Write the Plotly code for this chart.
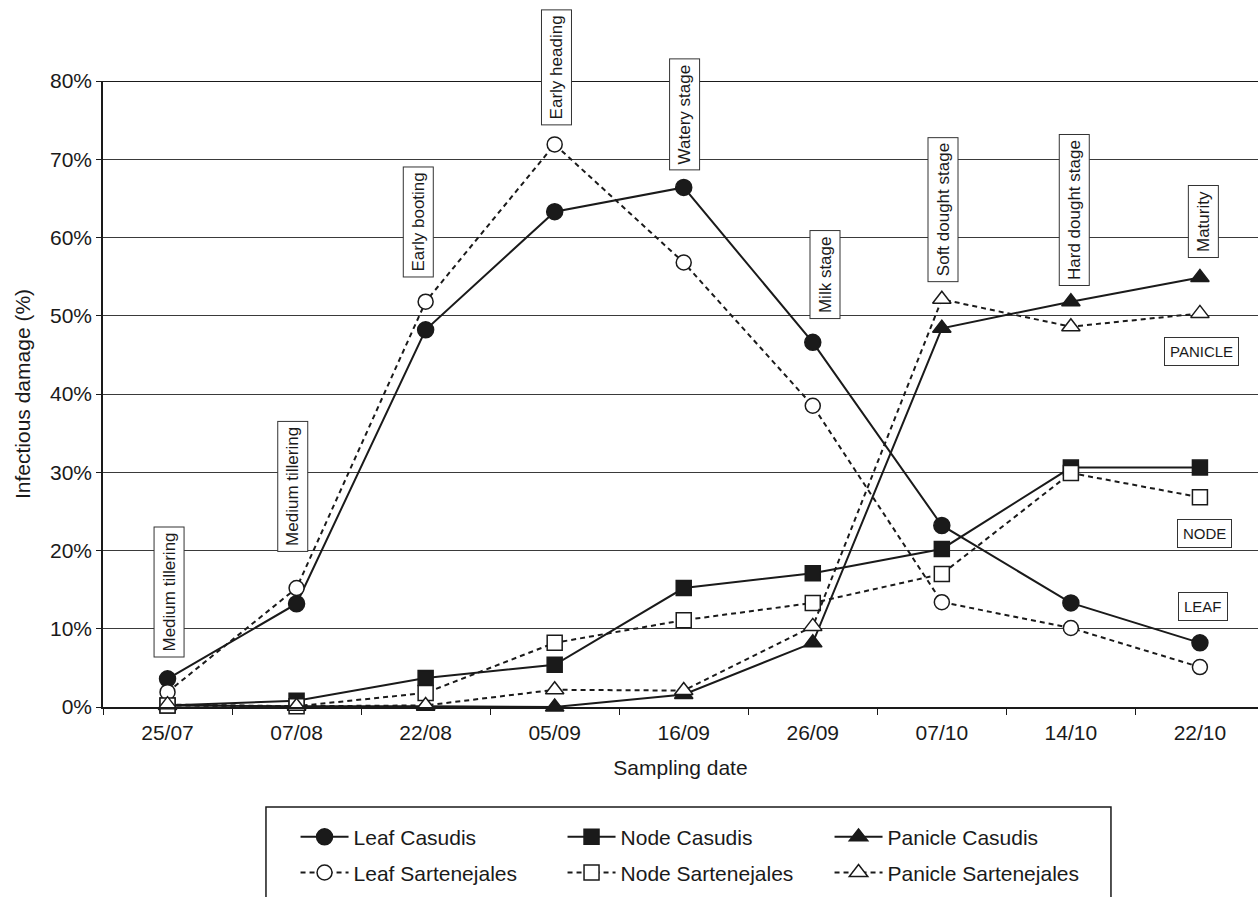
import plotly.graph_objects as go

# Sampling dates (categories on the x axis)
dates = ["25/07", "07/08", "22/08", "05/09", "16/09", "26/09", "07/10", "14/10", "22/10"]

# Infectious damage (%) per organ and cultivar
leaf_casudis = [3.6, 13.2, 48.2, 63.3, 66.4, 46.6, 23.2, 13.3, 8.2]
node_casudis = [0.2, 0.8, 3.7, 5.4, 15.2, 17.1, 20.2, 30.6, 30.6]
panicle_casudis = [0.2, 0.1, 0.1, 0.0, 1.6, 8.2, 48.4, 51.8, 54.9]
leaf_sartenejales = [1.9, 15.2, 51.8, 71.9, 56.8, 38.5, 13.4, 10.1, 5.1]
node_sartenejales = [0.2, 0.1, 1.8, 8.2, 11.1, 13.3, 17.0, 29.9, 26.8]
panicle_sartenejales = [0.3, 0.1, 0.2, 2.2, 2.1, 10.3, 52.1, 48.6, 50.3]

# Crop growth stage at each sampling date
stages = ["Medium tillering", "Medium tillering", "Early booting", "Early heading",
          "Watery stage", "Milk stage", "Soft dought stage", "Hard dought stage", "Maturity"]

# Organ labels on the right-hand side
organ_labels = ["PANICLE", "NODE", "LEAF"]

Y_MAX = 80

# Placement of the stage boxes (centre height in % units, x offset in px)
stage_y = [14.7, 28.2, 62.0, 81.7, 75.7, 55.3, 63.6, 63.5, 62.1]
stage_dx = [2, -4, -7, 2, 1, 12, 1, 3, 3]
organ_y = [45.4, 22.2, 12.9]
organ_dx = [2, 5, 3]

INK = "#1a1a1a"
FONT = "Liberation Sans, Arial, sans-serif"

series = [
    ("Leaf Casudis", leaf_casudis, "circle", INK, "solid", "legend", 16),
    ("Node Casudis", node_casudis, "square", INK, "solid", "legend", 15),
    ("Panicle Casudis", panicle_casudis, "triangle-up", INK, "solid", "legend", 16),
    ("Leaf Sartenejales", leaf_sartenejales, "circle", "white", "5px,4px", "legend2", 15),
    ("Node Sartenejales", node_sartenejales, "square", "white", "5px,4px", "legend2", 15),
    ("Panicle Sartenejales", panicle_sartenejales, "triangle-up", "white", "5px,4px", "legend2", 16),
]

fig = go.Figure()
for name, vals, sym, fill, dash, leg, size in series:
    fig.add_trace(go.Scatter(
        x=dates, y=vals, name=name, mode="lines+markers",
        line=dict(color=INK, width=2, dash=dash),
        marker=dict(symbol=sym, size=size, color=fill, line=dict(color=INK, width=1.5)),
        cliponaxis=False, legend=leg,
    ))

annotations = []
for i, (txt, yv, dx) in enumerate(zip(stages, stage_y, stage_dx)):
    annotations.append(dict(
        x=i, y=yv / Y_MAX, xref="x", yref="paper", xanchor="center", yanchor="middle",
        text=txt, textangle=-90, showarrow=False, xshift=dx,
        font=dict(family=FONT, size=17, color=INK),
        bgcolor="white", bordercolor="#333", borderwidth=1, borderpad=5,
    ))
for txt, yv, dx in zip(organ_labels, organ_y, organ_dx):
    annotations.append(dict(
        x=len(dates) - 1, y=yv / Y_MAX, xref="x", yref="paper", xanchor="center",
        yanchor="middle", text=txt, showarrow=False, xshift=dx,
        font=dict(family=FONT, size=15, color=INK),
        bgcolor="white", bordercolor="#333", borderwidth=1, borderpad=5,
    ))

legend_common = dict(
    orientation="h", xanchor="left", yanchor="middle", x=0.1667,
    font=dict(family=FONT, size=21, color=INK), bgcolor="rgba(0,0,0,0)",
    borderwidth=0, itemwidth=48, entrywidth=204, traceorder="normal",
)

fig.update_layout(
    width=1258, height=897, autosize=False,
    margin=dict(l=103, r=0, t=81, b=190),
    paper_bgcolor="white", plot_bgcolor="white",
    font=dict(family=FONT, size=21, color=INK),
    showlegend=True,
    legend=dict(legend_common, y=-0.208),
    legend2=dict(legend_common, y=-0.265),
    xaxis=dict(
        type="category", categoryorder="array", categoryarray=dates,
        range=[-0.5, 8.45], tickson="boundaries", ticks="outside", ticklen=6,
        tickcolor=INK, showline=True, linecolor=INK, linewidth=1.5, showgrid=False,
        ticklabelstandoff=6, tickfont=dict(size=21),
        title=dict(text="Sampling date", standoff=17, font=dict(size=21)),
    ),
    yaxis=dict(
        range=[0, Y_MAX], dtick=10, ticksuffix="%", ticks="outside", ticklen=5,
        tickcolor=INK, showline=True, linecolor=INK, linewidth=1.5,
        showgrid=True, gridcolor="#3a3a3a", gridwidth=1.3, zeroline=False,
        tickfont=dict(size=21),
        title=dict(text="Infectious damage (%)", standoff=14, font=dict(size=21)),
    ),
    annotations=annotations,
    shapes=[
        dict(type="line", xref="paper", yref="y", x0=0, x1=1, y0=Y_MAX, y1=Y_MAX,
             line=dict(color=INK, width=2.2)),
        dict(type="rect", xref="paper", yref="paper", x0=0.1411, x1=0.8727,
             y0=-0.1597, y1=-0.33, line=dict(color=INK, width=1.5)),
    ],
)

fig.write_html("out.html")
